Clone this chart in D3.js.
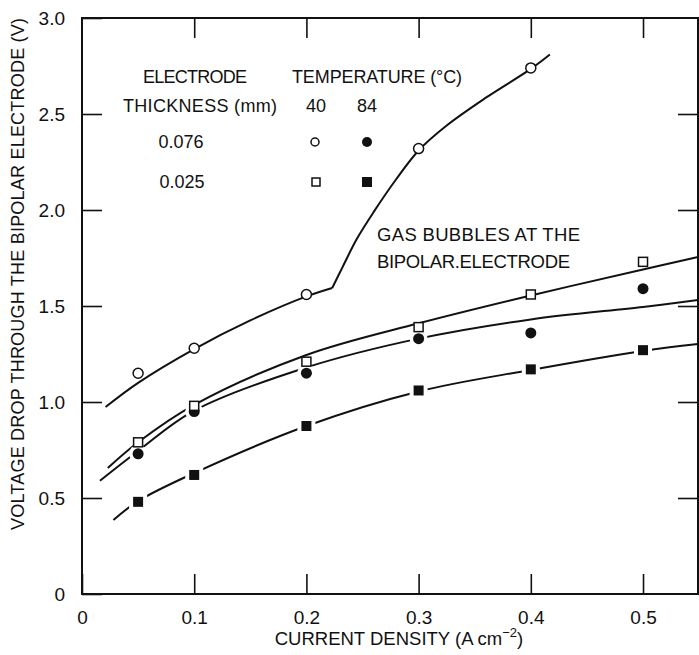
<!DOCTYPE html>
<html>
<head>
<meta charset="utf-8">
<script src="https://cdn.jsdelivr.net/npm/d3@7"></script>
<style>
  body { margin: 0; background: #fff; }
  text { font-family: "Liberation Sans", Arial, sans-serif; fill: #111; }
</style>
</head>
<body>
<script>
//current density values where the points were measured (A cm-2)
var currentDensity = [0.05, 0.1, 0.2, 0.3, 0.4, 0.5];

//measured voltage drop (V) for each electrode / temperature
var thick40 = [1.15, 1.28, 1.56, 2.32, 2.74];          //0.076 mm, 40 C (open circle)
var thick84 = [0.73, 0.95, 1.15, 1.33, 1.36, 1.59];    //0.076 mm, 84 C (filled circle)
var thin40 = [0.79, 0.98, 1.21, 1.39, 1.56, 1.73];     //0.025 mm, 40 C (open square)
var thin84 = [0.48, 0.62, 0.875, 1.06, 1.17, 1.27];    //0.025 mm, 84 C (filled square)

//hand drawn fit curves [x, y]
var fitThick40a = [[0.021, 0.974], [0.05, 1.10], [0.1, 1.276], [0.15, 1.425], [0.2, 1.55], [0.223, 1.594]];
var fitThick40b = [[0.223, 1.594], [0.232, 1.70], [0.245, 1.85], [0.26, 1.99], [0.28, 2.16], [0.3, 2.31], [0.325, 2.44], [0.36, 2.585], [0.4, 2.735], [0.417, 2.81]];
var fitThin40 = [[0.023, 0.656], [0.05, 0.79], [0.1, 0.985], [0.2, 1.245], [0.3, 1.41], [0.4, 1.555], [0.5, 1.69], [0.549, 1.755]];
var fitThick84 = [[0.016, 0.59], [0.05, 0.745], [0.1, 0.955], [0.2, 1.18], [0.3, 1.33], [0.4, 1.43], [0.5, 1.495], [0.549, 1.531]];
var fitThin84 = [[0.028, 0.385], [0.05, 0.484], [0.1, 0.63], [0.2, 0.875], [0.3, 1.055], [0.4, 1.167], [0.5, 1.266], [0.549, 1.302]];

//axis ticks
var xTicks = [0, 0.1, 0.2, 0.3, 0.4, 0.5];
var yTicks = [0, 0.5, 1.0, 1.5, 2.0, 2.5, 3.0];

var width = 699, height = 655;
var margin = { top: 18, right: 1, bottom: 61, left: 82 };

var svg = d3.select("body").append("svg")
  .attr("width", width)
  .attr("height", height);

var x = d3.scaleLinear().domain([0, 0.549]).range([margin.left, width - margin.right]);
var y = d3.scaleLinear().domain([0, 3]).range([height - margin.bottom, margin.top]);

var fmt = function(d) { return d === 0 ? "0" : d3.format(".1f")(d); };

//axes, ticks pointing inward
svg.append("g")
  .attr("transform", "translate(0," + y(0) + ")")
  .call(d3.axisBottom(x).tickValues(xTicks).tickSize(-20).tickSizeOuter(0).tickPadding(17).tickFormat(fmt))
  .call(function(g) { g.select(".domain").remove(); });

svg.append("g")
  .attr("transform", "translate(0," + y(3) + ")")
  .call(d3.axisTop(x).tickValues(xTicks.slice(1)).tickSize(-20).tickSizeOuter(0).tickFormat(""))
  .call(function(g) { g.select(".domain").remove(); });

svg.append("g")
  .attr("transform", "translate(" + x(0) + ",0)")
  .call(d3.axisLeft(y).tickValues(yTicks).tickSize(-20).tickSizeOuter(0).tickPadding(17).tickFormat(fmt))
  .call(function(g) { g.select(".domain").remove(); });

svg.append("g")
  .attr("transform", "translate(" + x(0.549) + ",0)")
  .call(d3.axisRight(y).tickValues(yTicks.slice(1, -1)).tickSize(-20).tickSizeOuter(0).tickFormat(""))
  .call(function(g) { g.select(".domain").remove(); });

svg.selectAll(".tick line").attr("stroke", "#111").attr("stroke-width", 1.6);
svg.selectAll(".tick text").style("font-size", "19px").attr("fill", "#111");

//frame
svg.append("rect")
  .attr("x", x(0))
  .attr("y", y(3))
  .attr("width", x(0.549) - x(0))
  .attr("height", y(0) - y(3))
  .attr("fill", "none")
  .attr("stroke", "#111")
  .attr("stroke-width", 2);

//fit curves
var line = d3.line()
  .x(function(d) { return x(d[0]); })
  .y(function(d) { return y(d[1]); })
  .curve(d3.curveCatmullRom.alpha(0.5));

[fitThick40a, fitThick40b, fitThin40, fitThick84, fitThin84].forEach(function(c) {
  svg.append("path")
    .datum(c)
    .attr("fill", "none")
    .attr("stroke", "#111")
    .attr("stroke-width", 2)
    .attr("d", line);
});

//points
function pts(vals) {
  return vals.map(function(v, i) { return [currentDensity[i], v]; });
}

function drawCircles(vals, filled) {
  var data = pts(vals);
  if (filled) {
    //white halo gives the broken line look around the solid markers
    svg.selectAll(null).data(data).enter().append("circle")
      .attr("cx", function(d) { return x(d[0]); })
      .attr("cy", function(d) { return y(d[1]); })
      .attr("r", 9)
      .attr("fill", "#fff");
  }
  svg.selectAll(null).data(data).enter().append("circle")
    .attr("cx", function(d) { return x(d[0]); })
    .attr("cy", function(d) { return y(d[1]); })
    .attr("r", filled ? 5.5 : 5)
    .attr("fill", filled ? "#111" : "#fff")
    .attr("stroke", "#111")
    .attr("stroke-width", filled ? 0 : 1.5);
}

function drawSquares(vals, filled) {
  var data = pts(vals);
  if (filled) {
    svg.selectAll(null).data(data).enter().append("rect")
      .attr("x", function(d) { return x(d[0]) - 9; })
      .attr("y", function(d) { return y(d[1]) - 9; })
      .attr("width", 18).attr("height", 18)
      .attr("fill", "#fff");
  }
  var s = filled ? 10 : 9;
  svg.selectAll(null).data(data).enter().append("rect")
    .attr("x", function(d) { return x(d[0]) - s / 2; })
    .attr("y", function(d) { return y(d[1]) - s / 2; })
    .attr("width", s).attr("height", s)
    .attr("fill", filled ? "#111" : "#fff")
    .attr("stroke", "#111")
    .attr("stroke-width", filled ? 0 : 1.5);
}

drawSquares(thin84, true);
drawCircles(thick84, true);
drawSquares(thin40, false);
drawCircles(thick40, false);

//legend
var legend = svg.append("g").style("font-size", "18px");
legend.append("text").attr("x", 195).attr("y", 83).attr("text-anchor", "middle").attr("textLength", 104).text("ELECTRODE");
legend.append("text").attr("x", 292).attr("y", 83).attr("textLength", 170).text("TEMPERATURE (°C)");
legend.append("text").attr("x", 200).attr("y", 112).attr("text-anchor", "middle").attr("textLength", 154).text("THICKNESS (mm)");
legend.append("text").attr("x", 316).attr("y", 112).attr("text-anchor", "middle").text("40");
legend.append("text").attr("x", 367).attr("y", 112).attr("text-anchor", "middle").text("84");
legend.append("text").attr("x", 181).attr("y", 148).attr("text-anchor", "middle").text("0.076");
legend.append("text").attr("x", 182).attr("y", 188).attr("text-anchor", "middle").text("0.025");
legend.append("circle").attr("cx", 315).attr("cy", 142).attr("r", 4).attr("fill", "#fff").attr("stroke", "#111").attr("stroke-width", 1.5);
legend.append("circle").attr("cx", 367).attr("cy", 142).attr("r", 5).attr("fill", "#111");
legend.append("rect").attr("x", 312).attr("y", 178).attr("width", 8).attr("height", 8).attr("fill", "#fff").attr("stroke", "#111").attr("stroke-width", 1.5);
legend.append("rect").attr("x", 362).attr("y", 177).attr("width", 10).attr("height", 10).attr("fill", "#111");

//annotation
svg.append("text").attr("x", 377).attr("y", 241).style("font-size", "18.5px").attr("textLength", 203).text("GAS BUBBLES AT THE");
svg.append("text").attr("x", 377).attr("y", 268).style("font-size", "18.5px").attr("textLength", 193).text("BIPOLAR.ELECTRODE");

//axis titles
var xt = svg.append("text")
  .attr("x", 399)
  .attr("y", 645)
  .attr("text-anchor", "middle")
  .style("font-size", "18.5px");
xt.append("tspan").text("CURRENT DENSITY (A cm");
xt.append("tspan").attr("dy", -8).style("font-size", "13px").text("−2");
xt.append("tspan").attr("dy", 8).text(")");

svg.append("text")
  .attr("transform", "rotate(-90)")
  .attr("x", -274)
  .attr("y", 24)
  .attr("text-anchor", "middle")
  .style("font-size", "18px")
  .attr("textLength", 512)
  .text("VOLTAGE DROP THROUGH THE BIPOLAR ELECTRODE (V)");
</script>
</body>
</html>
